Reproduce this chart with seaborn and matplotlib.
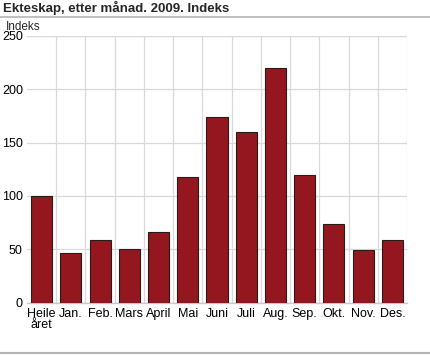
import matplotlib
matplotlib.use("Agg")
import matplotlib.pyplot as plt
import seaborn as sns
import numpy as np
import pandas as pd
from matplotlib.lines import Line2D

# Data
maaneder = ["Heile\nåret", "Jan.", "Feb.", "Mars", "April", "Mai", "Juni",
            "Juli", "Aug.", "Sep.", "Okt.", "Nov.", "Des."]
indeks = [100, 46, 59, 50, 66, 118, 174, 160, 220, 120, 74, 49, 59]
y_ticks = [0, 50, 100, 150, 200, 250]

df = pd.DataFrame({"Månad": maaneder, "Indeks": indeks})

sns.set_style("white")
plt.rcParams["font.family"] = ["Liberation Sans", "DejaVu Sans"]

fig = plt.figure(figsize=(4.30, 3.55), dpi=100)
ax = fig.add_axes([27 / 430, (355 - 302.5) / 355, 380 / 430, 266.5 / 355])

sns.barplot(data=df, x="Månad", y="Indeks", color="#94161e", edgecolor="#2a1a1a",
            linewidth=0.8, width=0.72, saturation=1, ax=ax, zorder=3)

ax.set_xlim(-0.5, len(maaneder) - 0.5)
ax.set_ylim(0, 250)
ax.set_yticks(y_ticks)
ax.set_xticks(np.arange(len(maaneder) - 1) + 0.5, minor=True)
ax.grid(axis="y", which="major", color="#d9d9d9", linewidth=0.9, zorder=0)
ax.grid(axis="x", which="minor", color="#d9d9d9", linewidth=0.9, zorder=0)
ax.set_axisbelow(True)

for s in ["top", "right", "left"]:
    ax.spines[s].set_visible(False)
ax.spines["bottom"].set_color("#c8c8c8")
ax.spines["bottom"].set_linewidth(1.0)
ax.axhline(250, color="#d9d9d9", linewidth=0.9, zorder=0)
ax.axvline(len(maaneder) - 0.5, color="#d9d9d9", linewidth=0.9, zorder=0)

ax.tick_params(axis="both", which="both", length=0, labelsize=9, colors="black", pad=3)
ax.tick_params(axis="x", pad=4)
for lab in ax.get_xticklabels():
    lab.set_linespacing(0.85)
ax.set_xlabel("")
ax.set_ylabel("")

fig.text(3 / 430, 1 - 8 / 355, "Ekteskap, etter månad. 2009. Indeks", fontsize=9.5,
         fontweight="bold", va="center", ha="left")
fig.add_artist(Line2D([0, 1], [1 - 17 / 355, 1 - 17 / 355], color="#b4b4b4", linewidth=1.2,
                      transform=fig.transFigure))
fig.text(6 / 430, 1 - 26.5 / 355, "Indeks", fontsize=8.5, va="center", ha="left")
fig.add_artist(Line2D([0, 1], [2 / 355, 2 / 355], color="#b4b4b4", linewidth=1.5,
                      transform=fig.transFigure))

fig.savefig("out.png", dpi=100)
